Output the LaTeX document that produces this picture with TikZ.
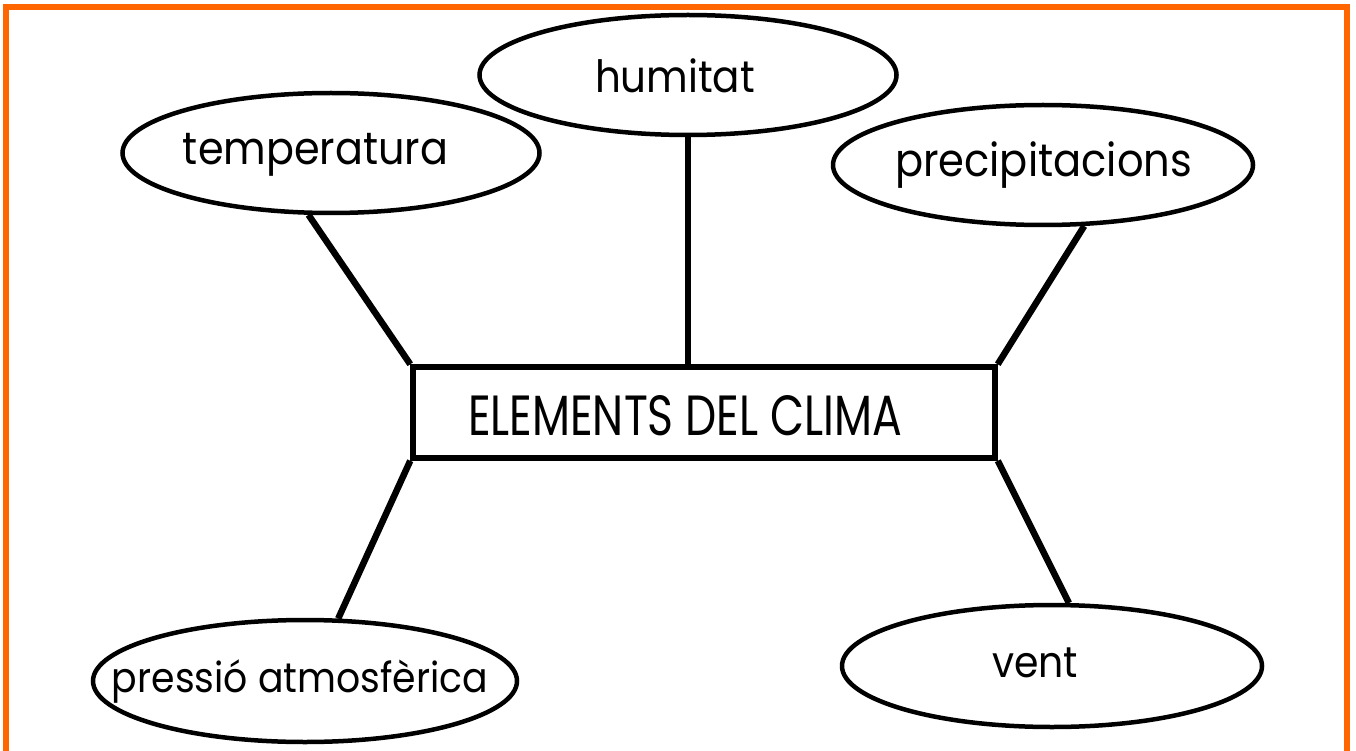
\documentclass[tikz,border=0pt]{standalone}
\usepackage{fontspec}
\setmainfont{Poppins}
\usepackage{graphicx}
\usetikzlibrary{shapes.geometric}
\definecolor{frameorange}{RGB}{255,102,0}
\newcommand{\fitlbl}[2]{\scalebox{1}[1.1]{\resizebox{#1}{!}{#2}}}
\begin{document}
\begin{tikzpicture}[x=1pt,y=-1pt,
  bubble/.style={draw=black,line width=4.5pt,ellipse,fill=white,inner sep=0pt},
  elbox/.style={draw=black,line width=5.5pt,rectangle,fill=white,inner sep=0pt,minimum width=582pt,minimum height=91pt},
  lbl/.style={anchor=base,inner sep=0pt,font=\fontsize{40}{48}\selectfont},
  conn/.style={draw=black,line width=6.5pt}]
\useasboundingbox (0,0) rectangle (1356,751);
\fill[white] (0,0) rectangle (1356,751);
\draw[frameorange,line width=6pt] (5.5,760) -- (5.5,7.5) -- (1347,7.5) -- (1347,760);

\node[elbox] (box) at (704,412.5) {};
\node[bubble,minimum width=417pt,minimum height=120pt] (temp) at (331,153) {};
\node[bubble,minimum width=417pt,minimum height=120pt] (hum) at (688,75) {};
\node[bubble,minimum width=420pt,minimum height=120pt] (prec) at (1043,165) {};
\node[bubble,minimum width=424pt,minimum height=122pt] (pres) at (305,681) {};
\node[bubble,minimum width=420pt,minimum height=122pt] (vent) at (1052,666) {};

\node[lbl] (ttemp) at (315.5,165) {\fitlbl{265pt}{temperatura}};
\node[lbl] (thum) at (675,93) {\fitlbl{160pt}{humitat}};
\node[lbl] (tprec) at (1043.5,177) {\fitlbl{297pt}{precipitacions}};
\node[lbl] (tpres) at (300,692) {\fitlbl{376pt}{pressió atmosfèrica}};
\node[lbl] (tvent) at (1035,677) {\fitlbl{86pt}{vent}};
\node[lbl] (tbox) at (685,435) {\resizebox{434pt}{40pt}{ELEMENTS DEL CLIMA}};

\draw[conn] (temp.250) -- (box.north west);
\draw[conn] (hum.south) -- (hum.south |- box.north);
\draw[conn] (prec.304) -- (box.north east);
\draw[conn] (pres.62) -- (box.south west);
\draw[conn] (vent.75) -- (box.south east);
\end{tikzpicture}
\end{document}
